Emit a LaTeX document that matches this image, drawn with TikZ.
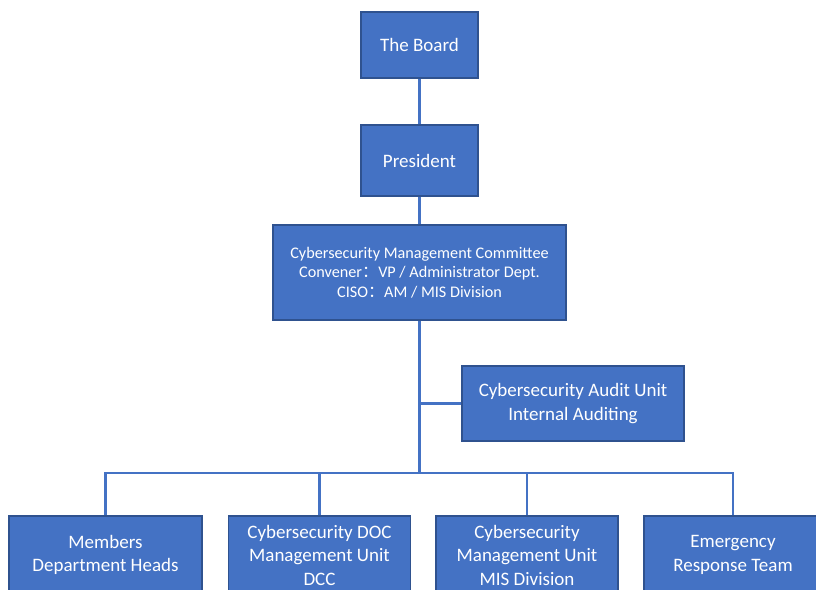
\documentclass[tikz,border=0pt]{standalone}
\usepackage{fontspec}
\setmainfont{Carlito}
\newfontfamily\cjk{Noto Sans CJK SC}
\usepackage{tikz}

\definecolor{boxblue}{HTML}{4472C4}
\definecolor{boxedge}{HTML}{2F528F}
\tikzset{
  unit/.style={draw=boxedge, line width=1.2pt, fill=boxblue, text=white,
    align=center, inner sep=0pt, font=\fontsize{19}{23.5}\selectfont},
  small/.style={font=\fontsize{16.2}{19.5}\selectfont},
  link/.style={draw=boxblue, line width=2.2pt}
}

\begin{document}
\begin{tikzpicture}[x=1pt,y=-1pt]
  \useasboundingbox (0,0) rectangle (816,589);
  \clip (0,0) rectangle (816,589);

  % top of the chart
  \node[unit, minimum width=117, minimum height=66] (board) at (419.5,45) {The Board};
  \node[unit, minimum width=117, minimum height=71] (president) at (419.5,160.5) {President};
  \node[unit, small, minimum width=293, minimum height=95] (committee) at (419.5,272.5)
    {Cybersecurity Management Committee\\Convener{\cjk ：}VP / Administrator Dept.\\CISO{\cjk ：}AM / MIS Division};
  \node[unit, minimum width=222, minimum height=75] (audit) at (573,403.5)
    {Cybersecurity Audit Unit\\Internal Auditing};

  % bottom row
  \node[unit, minimum width=193, minimum height=78] (members) at (105.5,555) {Members\\Department Heads};
  \node[unit, minimum width=182, minimum height=78] (doc) at (319.5,555) {Cybersecurity DOC\\Management Unit\\DCC};
  \node[unit, minimum width=182, minimum height=78] (mis) at (527,555) {Cybersecurity\\Management Unit\\MIS Division};
  \node[unit, minimum width=178, minimum height=78] (emergency) at (733,555) {Emergency\\Response Team};

  \coordinate (bus) at (419.5,473);
  \coordinate (tap) at (committee.south |- audit.west);

  \draw[link] (board.south) -- (president.north);
  \draw[link] (president.south) -- (committee.north);
  \draw[link] (committee.south) -- (bus);
  \draw[link] (tap) -- (audit.west);
  \draw[link] (members.north) -- (members.north |- bus) -- (emergency.north |- bus) -- (emergency.north);
  \draw[link] (doc.north) -- (doc.north |- bus);
  \draw[link] (mis.north) -- (mis.north |- bus);
\end{tikzpicture}
\end{document}
